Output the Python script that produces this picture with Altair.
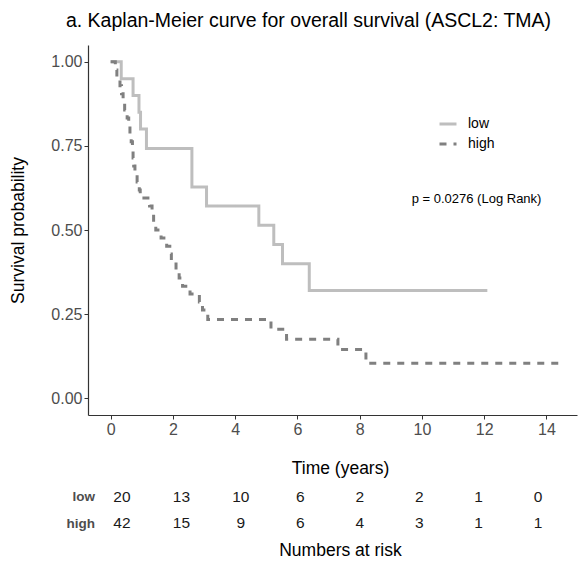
import altair as alt
import pandas as pd

FONT = "Liberation Sans"

# Kaplan-Meier step points (time in years, survival probability)
low_t = [0, 0.34, 0.72, 0.91, 0.96, 1.15, 2.61, 3.08, 4.76, 5.24, 5.52, 6.38, 12.1]
low_s = [1.0, 0.95, 0.90, 0.85, 0.80, 0.742, 0.628, 0.571, 0.514, 0.457, 0.40, 0.32, 0.32]

high_t = [0, 0.15, 0.2, 0.3, 0.35, 0.4, 0.45, 0.53, 0.58, 0.62, 0.66, 0.7, 0.72, 0.74,
          0.78, 0.85, 0.92, 0.95, 1.25, 1.33, 1.38, 1.45, 1.62, 1.8, 1.9, 1.95, 2.1,
          2.2, 2.31, 2.55, 2.85, 2.95, 3.12, 5.15, 5.65, 7.3, 8.2, 14.55]
high_s = [1.0, 0.976, 0.952, 0.929, 0.905, 0.881, 0.857, 0.833, 0.810, 0.786, 0.762,
          0.738, 0.714, 0.690, 0.667, 0.643, 0.619, 0.595, 0.571, 0.548, 0.524, 0.500,
          0.476, 0.452, 0.429, 0.405, 0.381, 0.357, 0.333, 0.310, 0.286, 0.262, 0.234,
          0.205, 0.175, 0.145, 0.104, 0.104]

groups = ["low", "high"]
group_colors = ["#BEBEBE", "#808080"]
group_dash = [[1, 0], [7, 7]]

# Numbers at risk
risk_times = [0, 2, 4, 6, 8, 10, 12, 14]
risk_low = [20, 13, 10, 6, 2, 2, 1, 0]
risk_high = [42, 15, 9, 6, 4, 3, 1, 1]

x_ticks = [0, 2, 4, 6, 8, 10, 12, 14]
y_ticks = [0.0, 0.25, 0.5, 0.75, 1.0]

p_label = ["p = 0.0276 (Log Rank)"]
p_x = [9.67]
p_y = [0.592]

W, H = 489, 370

curve_df = pd.concat([
    pd.DataFrame({"time": low_t, "surv": low_s, "group": "low", "order": range(len(low_t))}),
    pd.DataFrame({"time": high_t, "surv": high_s, "group": "high", "order": range(len(high_t))}),
], ignore_index=True)

risk_df = pd.concat([
    pd.DataFrame({"time": risk_times, "n": risk_low, "group": "low"}),
    pd.DataFrame({"time": risk_times, "n": risk_high, "group": "high"}),
], ignore_index=True)

p_df = pd.DataFrame({"label": p_label, "time": p_x, "surv": p_y})

x_scale = alt.Scale(domain=[-0.7275, 14.98], nice=False, zero=False)
y_scale = alt.Scale(domain=[-0.05, 1.05], nice=False, zero=False)

lines = alt.Chart(curve_df).mark_line(
    interpolate="step-after", strokeWidth=3, strokeCap="butt"
).encode(
    x=alt.X("time:Q", scale=x_scale,
            axis=alt.Axis(values=x_ticks, title="Time (years)", titleX=252, titleY=53,
                          titleBaseline="middle", titleAlign="center")),
    y=alt.Y("surv:Q", scale=y_scale,
            axis=alt.Axis(values=y_ticks, format=".2f", title="Survival probability",
                          titleX=-70, titleY=185, titleBaseline="middle",
                          titleAlign="center", titleAngle=-90)),
    color=alt.Color("group:N", scale=alt.Scale(domain=groups, range=group_colors),
                    legend=alt.Legend(orient="none", legendX=350, legendY=69, title=None,
                                      symbolType="stroke", symbolSize=289,
                                      symbolStrokeWidth=3, labelFontSize=14,
                                      labelColor="#000000", labelFont=FONT,
                                      labelOffset=10, rowPadding=3, padding=0)),
    strokeDash=alt.StrokeDash("group:N", scale=alt.Scale(domain=groups, range=group_dash),
                              legend=alt.Legend(orient="none", legendX=350, legendY=69,
                                                title=None)),
    order="order:Q",
)

ptext = alt.Chart(p_df).mark_text(
    align="left", baseline="middle", fontSize=13, font=FONT, color="#000000"
).encode(
    x=alt.X("time:Q", scale=x_scale),
    y=alt.Y("surv:Q", scale=y_scale),
    text="label:N",
)

main = alt.layer(lines, ptext)

table = alt.Chart(risk_df).mark_text(
    align="center", baseline="middle", fontSize=15.5, font=FONT, color="#1A1A1A"
).encode(
    x=alt.X("time:Q",
            scale=alt.Scale(domain=[-1.144, 15.31], nice=False, zero=False),
            axis=alt.Axis(orient="bottom", labels=False, ticks=False, domain=False,
                          grid=False, title="Numbers at risk", titleX=252, titleY=135,
                          titleBaseline="middle", titleAlign="center")),
    y=alt.Y("group:N",
            scale=alt.Scale(domain=groups, range=[451.7, 478], padding=0),
            axis=alt.Axis(orient="left", domain=False, ticks=False, labelPadding=0,
                          offset=-6.5, labelFontWeight="bold", labelFontSize=13.5,
                          labelColor="#4D4D4D", title=None, grid=False)),
    text="n:Q",
)

chart = alt.layer(main, table).resolve_scale(
    x="independent", y="independent"
).properties(
    width=W,
    height=H,
    title=alt.TitleParams(
        "a. Kaplan-Meier curve for overall survival (ASCL2: TMA)",
        fontSize=19.5, font=FONT, fontWeight="normal", color="#000000",
        anchor="middle", dx=-24, offset=14,
    ),
    autosize=alt.AutoSizeParams(type="none"),
    padding={"left": 80, "top": 37, "right": 1, "bottom": 148},
).configure_view(
    stroke=None
).configure_axis(
    grid=False,
    labelFont=FONT,
    labelFontSize=16,
    labelColor="#4D4D4D",
    titleFont=FONT,
    titleFontSize=17.5,
    titleFontWeight="normal",
    titleColor="#000000",
    domainColor="#333333",
    domainWidth=1.2,
    tickColor="#333333",
    tickSize=4,
    labelPadding=2,
)

chart.save("out.html", embed_options={"renderer": "svg", "actions": False})
